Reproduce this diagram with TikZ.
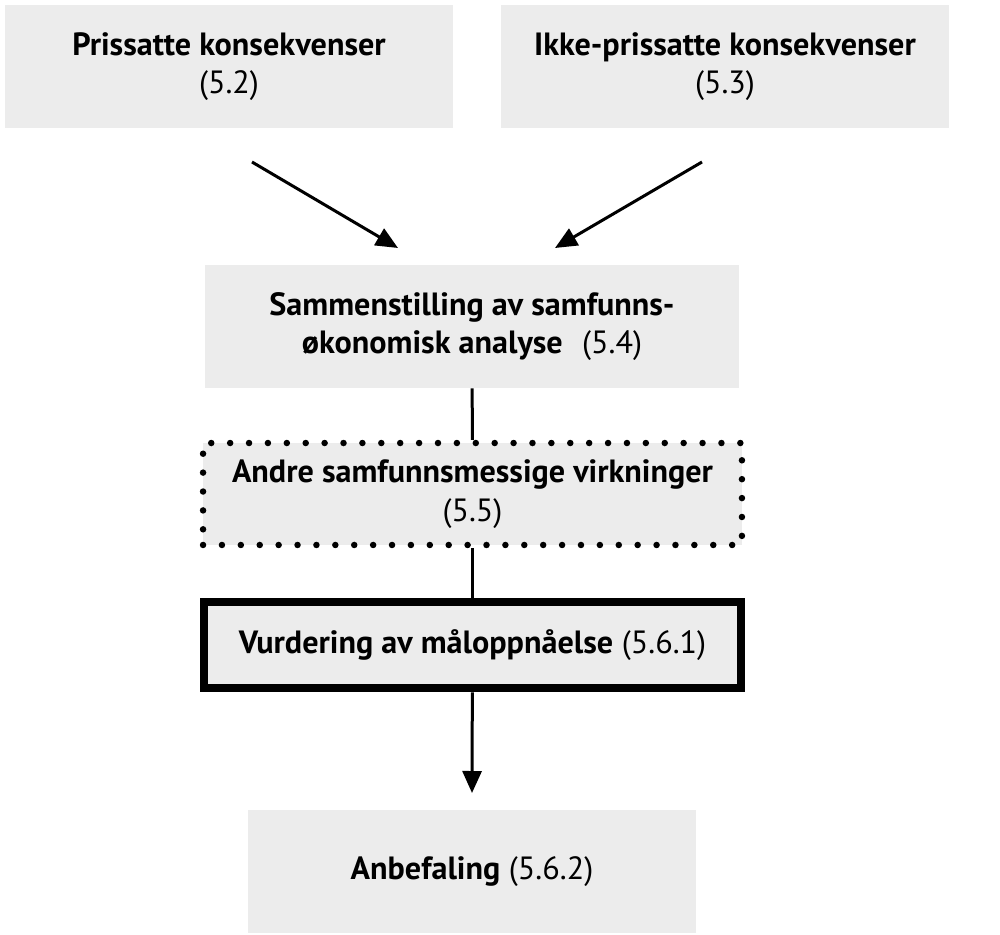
\documentclass[tikz,border=0pt]{standalone}
\usepackage{fontspec}
\setmainfont{PT Sans}
\usepackage{tikz}
\usetikzlibrary{arrows.meta}
\definecolor{boxgray}{RGB}{236,236,236}

\begin{document}
\begin{tikzpicture}[x=0.02cm,y=-0.02cm,
  box/.style={fill=boxgray,minimum width=8.96cm,minimum height=2.46cm,align=center,inner sep=0pt,font=\fontsize{18.3}{22}\selectfont},
  dotbox/.style={box,draw,line width=0.13cm,dash pattern=on 0pt off 0.378cm,line cap=round,minimum width=10.78cm,minimum height=2.04cm},
  thickbox/.style={box,draw,line width=0.16cm,minimum width=10.75cm,minimum height=1.74cm},
  link/.style={line width=0.06cm},
  tip/.style={link,-{Triangle[length=0.44cm,width=0.38cm]}}]
  \useasboundingbox (0,0) rectangle (1000,935);
  %top
  \node[box] (pris) at (229,66.5) {\textbf{Prissatte konsekvenser}\\(5.2)};
  \node[box] (ikke) at (725,66.5) {\textbf{Ikke-prissatte konsekvenser}\\(5.3)};
  \coordinate (pris-out) at (252,162);
  \coordinate (pris-in) at (398,248);
  \coordinate (ikke-out) at (702,162);
  \coordinate (ikke-in) at (555,248);
  \draw[tip] (pris-out) -- (pris-in);
  \draw[tip] (ikke-out) -- (ikke-in);

  %middle
  \node[box,minimum width=10.68cm] (samm) at (472,326.5) {\textbf{Sammenstilling av samfunns-}\\\textbf{økonomisk analyse}\hspace{0.6em}(5.4)};
  \node[dotbox] (andre) at (472.5,494) {\textbf{Andre samfunnsmessige virkninger}\\(5.5)};
  \node[thickbox] (vurd) at (472.5,645) {\textbf{Vurdering av måloppnåelse} (5.6.1)};
  \draw[link] (samm) -- (andre);
  \draw[link] (andre) -- (vurd);

  %bottom
  \node[box] (anbe) at (472,871.5) {\textbf{Anbefaling} (5.6.2)};
  \coordinate (anbe-in) at (472,793);
  \draw[tip] (vurd) -- (anbe-in);
\end{tikzpicture}
\end{document}
